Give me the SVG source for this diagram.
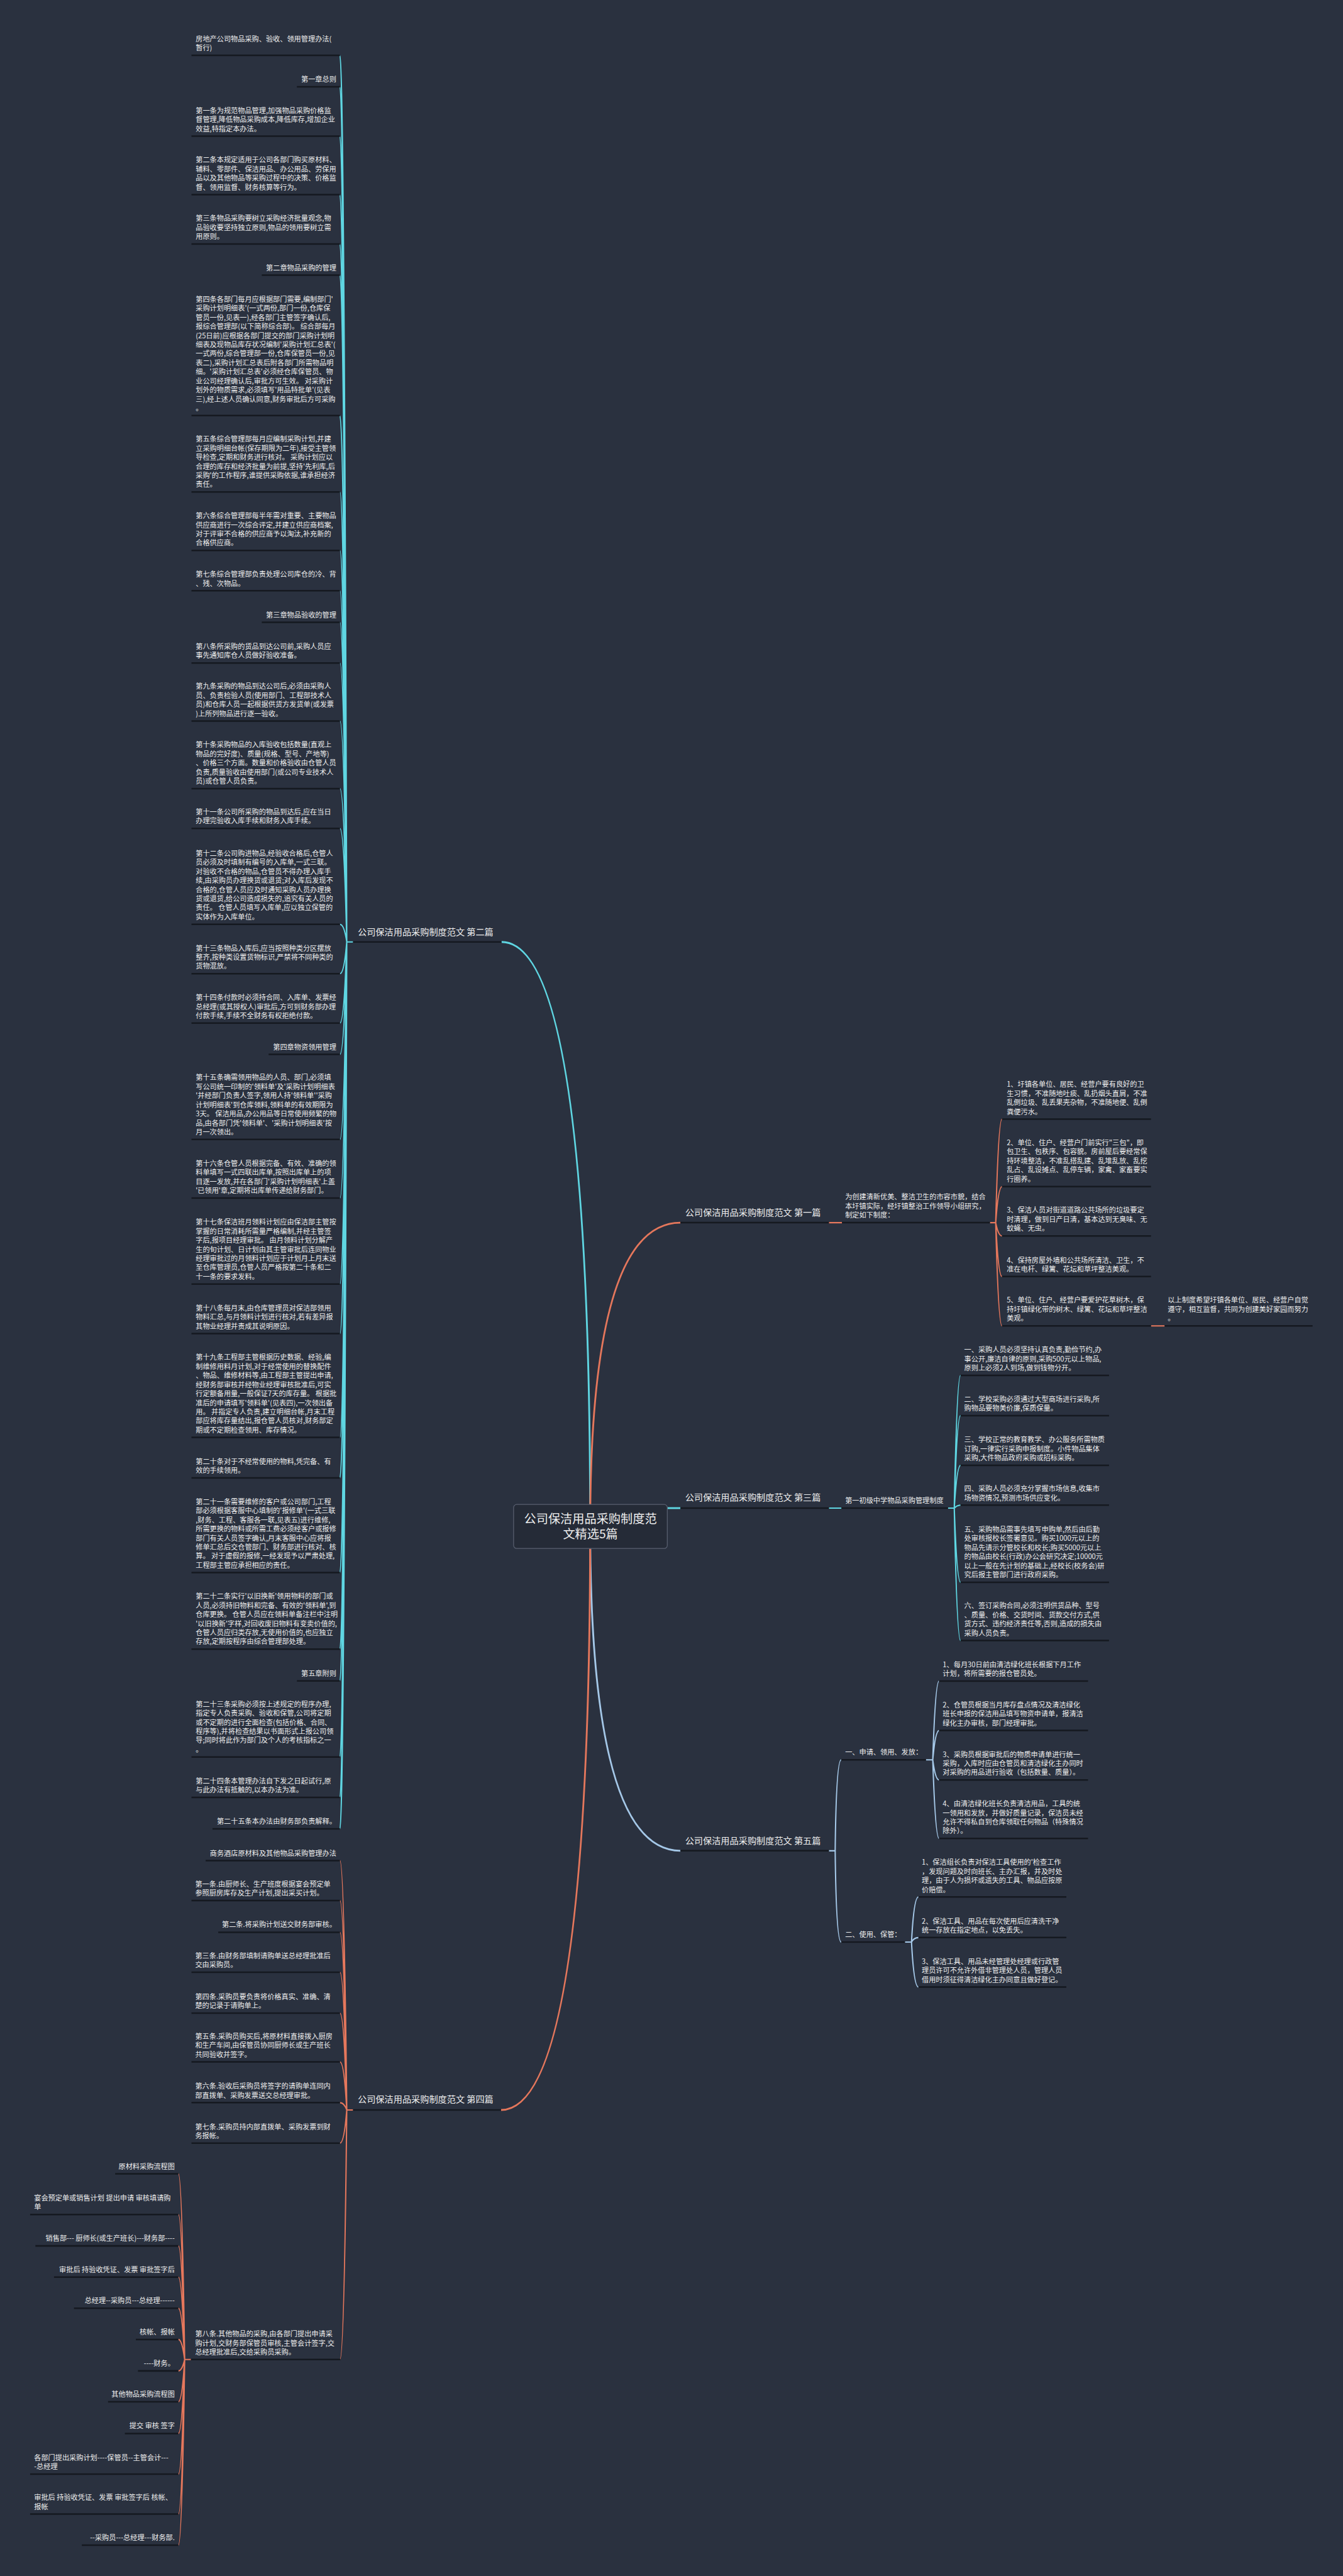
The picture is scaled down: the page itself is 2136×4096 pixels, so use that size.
<svg xmlns="http://www.w3.org/2000/svg" width="2136" height="4096" viewBox="0 0 2136 4096">
<style>
.t{font-family:"Noto Sans CJK SC","Noto Sans",sans-serif;font-size:13.4px;fill:#eeeeee}
.r{text-anchor:end}
.lb{font-size:17px}
.rt{font-size:23px;text-anchor:middle}
.u{stroke:#151920;stroke-width:3}
.cy{stroke:#5fd6e2;fill:none;stroke-width:2.5}
.or{stroke:#e5775c;fill:none;stroke-width:2.5}
.lbu{stroke:#a5c8e8;fill:none;stroke-width:2.5}
.m{stroke-width:3.5}
</style>
<rect width="2136" height="4096" fill="#2a313f"/>
<g transform="scale(0.834375)">
<g id="connectors">
<path class="cy m" d="M1125,2909 Q1125,1795 956,1795"/>
<path class="or m" d="M1125,2909 Q1125,2330 1297,2330"/>
<path class="cy m" d="M1272,2874 H1297"/>
<path class="lbu m" d="M1125,2909 Q1125,3527 1297,3527"/>
<path class="or m" d="M1125,2909 Q1125,4021 955,4021"/>
<path class="cy" d="M673,1795 H661 M661,1795 Q656,105.6 648,105.6 M661,1795 Q656,165.4 648,165.4 M661,1795 Q656,259.6 648,259.6 M661,1795 Q656,371 648,371 M661,1795 Q656,465 648,465 M661,1795 Q656,524.4 648,524.4 M661,1795 Q656,792 648,792 M661,1795 Q656,937.5 648,937.5 M661,1795 Q656,1049 648,1049 M661,1795 Q656,1125.8 648,1125.8 M661,1795 Q656,1186 648,1186 M661,1795 Q656,1263.5 648,1263.5 M661,1795 Q656,1374 648,1374 M661,1795 Q656,1502.9 648,1502.9 M661,1795 Q656,1578.7 648,1578.7 M661,1795 Q656,1761.4 648,1761.4 M661,1795 Q656,1855.5 648,1855.5 M661,1795 Q656,1949.6 648,1949.6 M661,1795 Q656,2009.3 648,2009.3 M661,1795 Q656,2171.4 648,2171.4 M661,1795 Q656,2283 648,2283 M661,1795 Q656,2446.9 648,2446.9 M661,1795 Q656,2541.5 648,2541.5 M661,1795 Q656,2739.3 648,2739.3 M661,1795 Q656,2816.5 648,2816.5 M661,1795 Q656,2997 648,2997 M661,1795 Q656,3142.7 648,3142.7 M661,1795 Q656,3203.4 648,3203.4 M661,1795 Q656,3348.2 648,3348.2 M661,1795 Q656,3425.4 648,3425.4 M661,1795 Q656,3485.3 648,3485.3"/>
<path class="or" d="M1580,2330 H1605 M1887,2330 H1898 M1898,2330 Q1903,2132.7 1910,2132.7 M1898,2330 Q1903,2261.3 1910,2261.3 M1898,2330 Q1903,2355.3 1910,2355.3 M1898,2330 Q1903,2432.7 1910,2432.7 M1898,2330 Q1903,2526.7 1910,2526.7 M2194,2526.7 H2220"/>
<path class="cy" d="M1580,2874 H1604 M1807,2874 H1819 M1819,2874 Q1824,2621.1 1831,2621.1 M1819,2874 Q1824,2697.7 1831,2697.7 M1819,2874 Q1824,2792.6 1831,2792.6 M1819,2874 Q1824,2868.4 1831,2868.4 M1819,2874 Q1824,3015.3 1831,3015.3 M1819,2874 Q1824,3126.3 1831,3126.3"/>
<path class="lbu" d="M1580,3527 H1592 M1592,3527 Q1594,3353.8 1603.5,3353.8 M1592,3527 Q1594,3701 1603.5,3701 M1765,3353.8 H1778 M1778,3353.8 Q1783,3203.6 1790,3203.6 M1778,3353.8 Q1783,3297.8 1790,3297.8 M1778,3353.8 Q1783,3392 1790,3392 M1778,3353.8 Q1783,3503.5 1790,3503.5 M1725,3701 H1737.5 M1737.5,3701 Q1742,3615 1750.7,3615 M1737.5,3701 Q1742,3692.4 1750.7,3692.4 M1737.5,3701 Q1742,3786.6 1750.7,3786.6"/>
<path class="or" d="M673,4021 H661 M661,4021 Q656,3545.9 648,3545.9 M661,4021 Q656,3622 648,3622 M661,4021 Q656,3682.3 648,3682.3 M661,4021 Q656,3758.5 648,3758.5 M661,4021 Q656,3836.4 648,3836.4 M661,4021 Q656,3929.3 648,3929.3 M661,4021 Q656,4007 648,4007 M661,4021 Q656,4084.2 648,4084.2 M661,4021 Q656,4496.5 648,4496.5"/>
<path class="or" d="M364,4496.5 H352 M352,4496.5 Q347,4142.7 340,4142.7 M352,4496.5 Q347,4220.2 340,4220.2 M352,4496.5 Q347,4280 340,4280 M352,4496.5 Q347,4339.5 340,4339.5 M352,4496.5 Q347,4398.9 340,4398.9 M352,4496.5 Q347,4458.3 340,4458.3 M352,4496.5 Q347,4518.2 340,4518.2 M352,4496.5 Q347,4577 340,4577 M352,4496.5 Q347,4637.5 340,4637.5 M352,4496.5 Q347,4715 340,4715 M352,4496.5 Q347,4791 340,4791 M352,4496.5 Q347,4850.3 340,4850.3"/>
</g>

<g id="root">
<rect x="979" y="2867" width="293" height="84" rx="6" fill="#252b37" stroke="#596070" stroke-width="1.5"/>
<text class="t rt" x="1125.5"><tspan x="1125.5" y="2903">公司保洁用品采购制度范</tspan><tspan x="1125.5" y="2931.7">文精选5篇</tspan></text>
</g>

<g id="b2"><text class="t lb" x="682" y="1782.5">公司保洁用品采购制度范文 第二篇</text><line class="u" x1="673" y1="1795" x2="956" y2="1795"/></g>
<g id="b1"><text class="t lb" x="1306" y="2316.5">公司保洁用品采购制度范文 第一篇</text><line class="u" x1="1297" y1="2330" x2="1580" y2="2330"/></g>
<g id="b3"><text class="t lb" x="1306" y="2859.5">公司保洁用品采购制度范文 第三篇</text><line class="u" x1="1297" y1="2874" x2="1580" y2="2874"/></g>
<g id="b5"><text class="t lb" x="1306" y="3513.5">公司保洁用品采购制度范文 第五篇</text><line class="u" x1="1297" y1="3527" x2="1580" y2="3527"/></g>
<g id="b4"><text class="t lb" x="682" y="4007">公司保洁用品采购制度范文 第四篇</text><line class="u" x1="673" y1="4021" x2="955" y2="4021"/></g>

<g id="b2-1"><text class="t"><tspan x="373" y="79">房地产公司物品采购、验收、领用管理办法(</tspan><tspan x="373" y="96.3">暂行)</tspan></text><line class="u" x1="365" y1="105.6" x2="648" y2="105.6"/></g>
<g id="b2-2"><text class="t r" x="641" y="155.9">第一章总则</text><line class="u" x1="566" y1="165.4" x2="648" y2="165.4"/></g>
<g id="b2-3"><text class="t"><tspan x="373" y="215.7">第一条为规范物品管理,加强物品采购价格监</tspan><tspan x="373" y="233">督管理,降低物品采购成本,降低库存,增加企业</tspan><tspan x="373" y="250.3">效益,特指定本办法。</tspan></text><line class="u" x1="365" y1="259.6" x2="648" y2="259.6"/></g>
<g id="b2-4"><text class="t"><tspan x="373" y="309.8">第二条本规定适用于公司各部门购买原材料、</tspan><tspan x="373" y="327.1">辅料、零部件、保洁用品、办公用品、劳保用</tspan><tspan x="373" y="344.4">品以及其他物品等采购过程中的决策、价格监</tspan><tspan x="373" y="361.7">督、领用监督、财务核算等行为。</tspan></text><line class="u" x1="365" y1="371" x2="648" y2="371"/></g>
<g id="b2-5"><text class="t"><tspan x="373" y="421.1">第三条物品采购要树立采购经济批量观念,物</tspan><tspan x="373" y="438.4">品验收要坚持独立原则,物品的领用要树立需</tspan><tspan x="373" y="455.7">用原则。</tspan></text><line class="u" x1="365" y1="465" x2="648" y2="465"/></g>
<g id="b2-6"><text class="t r" x="641" y="514.9">第二章物品采购的管理</text><line class="u" x1="499" y1="524.4" x2="648" y2="524.4"/></g>
<g id="b2-7"><text class="t"><tspan x="373" y="575.1">第四条各部门每月应根据部门需要,编制部门'</tspan><tspan x="373" y="592.4">采购计划明细表'(一式两份,部门一份,仓库保</tspan><tspan x="373" y="609.7">管员一份,见表一),经各部门主管签字确认后,</tspan><tspan x="373" y="627">报综合管理部(以下简称综合部)。 综合部每月</tspan><tspan x="373" y="644.3">(25日前)应根据各部门提交的部门采购计划明</tspan><tspan x="373" y="661.6">细表及现物品库存状况编制'采购计划汇总表'(</tspan><tspan x="373" y="678.9">一式两份,综合管理部一份,仓库保管员一份,见</tspan><tspan x="373" y="696.2">表二),采购计划汇总表后附各部门所需物品明</tspan><tspan x="373" y="713.5">细。'采购计划汇总表'必须经仓库保管员、物</tspan><tspan x="373" y="730.8">业公司经理确认后,审批方可生效。 对采购计</tspan><tspan x="373" y="748.1">划外的物质需求,必须填写'用品特批单'(见表</tspan><tspan x="373" y="765.4">三),经上述人员确认同意,财务审批后方可采购</tspan><tspan x="373" y="782.7">。</tspan></text><line class="u" x1="365" y1="792" x2="648" y2="792"/></g>
<g id="b2-8"><text class="t"><tspan x="373" y="841.7">第五条综合管理部每月应编制采购计划,并建</tspan><tspan x="373" y="859">立采购明细台帐(保存期限为二年),接受主管领</tspan><tspan x="373" y="876.3">导检查,定期和财务进行核对。 采购计划应以</tspan><tspan x="373" y="893.6">合理的库存和经济批量为前提,坚持'先利库,后</tspan><tspan x="373" y="910.9">采购'的工作程序,谁提供采购依据,谁承担经济</tspan><tspan x="373" y="928.2">责任。</tspan></text><line class="u" x1="365" y1="937.5" x2="648" y2="937.5"/></g>
<g id="b2-9"><text class="t"><tspan x="373" y="987.8">第六条综合管理部每半年需对重要、主要物品</tspan><tspan x="373" y="1005.1">供应商进行一次综合评定,并建立供应商档案,</tspan><tspan x="373" y="1022.4">对于评审不合格的供应商予以淘汰,补充新的</tspan><tspan x="373" y="1039.7">合格供应商。</tspan></text><line class="u" x1="365" y1="1049" x2="648" y2="1049"/></g>
<g id="b2-10"><text class="t"><tspan x="373" y="1099.2">第七条综合管理部负责处理公司库仓的冷、背</tspan><tspan x="373" y="1116.5">、残、次物品。</tspan></text><line class="u" x1="365" y1="1125.8" x2="648" y2="1125.8"/></g>
<g id="b2-11"><text class="t r" x="641" y="1176.5">第三章物品验收的管理</text><line class="u" x1="499" y1="1186" x2="648" y2="1186"/></g>
<g id="b2-12"><text class="t"><tspan x="373" y="1236.9">第八条所采购的货品到达公司前,采购人员应</tspan><tspan x="373" y="1254.2">事先通知库仓人员做好验收准备。</tspan></text><line class="u" x1="365" y1="1263.5" x2="648" y2="1263.5"/></g>
<g id="b2-13"><text class="t"><tspan x="373" y="1312.8">第九条采购的物品到达公司后,必须由采购人</tspan><tspan x="373" y="1330.1">员、负责检验人员(使用部门、工程部技术人</tspan><tspan x="373" y="1347.4">员)和仓库人员一起根据供货方发货单(或发票</tspan><tspan x="373" y="1364.7">)上所列物品进行逐一验收。</tspan></text><line class="u" x1="365" y1="1374" x2="648" y2="1374"/></g>
<g id="b2-14"><text class="t"><tspan x="373" y="1424.4">第十条采购物品的入库验收包括数量(直观上</tspan><tspan x="373" y="1441.7">物品的完好度)、质量(规格、型号、产地等)</tspan><tspan x="373" y="1459">、价格三个方面。数量和价格验收由仓管人员</tspan><tspan x="373" y="1476.3">负责,质量验收由使用部门(或公司专业技术人</tspan><tspan x="373" y="1493.6">员)或仓管人员负责。</tspan></text><line class="u" x1="365" y1="1502.9" x2="648" y2="1502.9"/></g>
<g id="b2-15"><text class="t"><tspan x="373" y="1552.1">第十一条公司所采购的物品到达后,应在当日</tspan><tspan x="373" y="1569.4">办理完验收入库手续和财务入库手续。</tspan></text><line class="u" x1="365" y1="1578.7" x2="648" y2="1578.7"/></g>
<g id="b2-16"><text class="t"><tspan x="373" y="1631">第十二条公司购进物品,经验收合格后,仓管人</tspan><tspan x="373" y="1648.3">员必须及时填制有编号的入库单,一式三联。</tspan><tspan x="373" y="1665.6">对验收不合格的物品,仓管员不得办理入库手</tspan><tspan x="373" y="1682.9">续,由采购员办理换货或退货;对入库后发现不</tspan><tspan x="373" y="1700.2">合格的,仓管人员应及时通知采购人员办理换</tspan><tspan x="373" y="1717.5">货或退货,给公司造成损失的,追究有关人员的</tspan><tspan x="373" y="1734.8">责任。 仓管人员填写入库单,应以独立保管的</tspan><tspan x="373" y="1752.1">实体作为入库单位。</tspan></text><line class="u" x1="365" y1="1761.4" x2="648" y2="1761.4"/></g>
<g id="b2-17"><text class="t"><tspan x="373" y="1811.6">第十三条物品入库后,应当按照种类分区摆放</tspan><tspan x="373" y="1828.9">整齐,按种类设置货物标识,严禁将不同种类的</tspan><tspan x="373" y="1846.2">货物混放。</tspan></text><line class="u" x1="365" y1="1855.5" x2="648" y2="1855.5"/></g>
<g id="b2-18"><text class="t"><tspan x="373" y="1905.7">第十四条付款时必须持合同、入库单、发票经</tspan><tspan x="373" y="1923">总经理(或其授权人)审批后,方可到财务部办理</tspan><tspan x="373" y="1940.3">付款手续,手续不全财务有权拒绝付款。</tspan></text><line class="u" x1="365" y1="1949.6" x2="648" y2="1949.6"/></g>
<g id="b2-19"><text class="t r" x="641" y="1999.8">第四章物资领用管理</text><line class="u" x1="512" y1="2009.3" x2="648" y2="2009.3"/></g>
<g id="b2-20"><text class="t"><tspan x="373" y="2058.3">第十五条确需领用物品的人员、部门,必须填</tspan><tspan x="373" y="2075.6">写公司统一印制的'领料单'及'采购计划明细表</tspan><tspan x="373" y="2092.9">'并经部门负责人签字,领用人持'领料单''采购</tspan><tspan x="373" y="2110.2">计划明细表'到仓库领料,领料单的有效期限为</tspan><tspan x="373" y="2127.5">3天。 保洁用品,办公用品等日常使用频繁的物</tspan><tspan x="373" y="2144.8">品,由各部门凭'领料单'、'采购计划明细表'按</tspan><tspan x="373" y="2162.1">月一次领出。</tspan></text><line class="u" x1="365" y1="2171.4" x2="648" y2="2171.4"/></g>
<g id="b2-21"><text class="t"><tspan x="373" y="2221.8">第十六条仓管人员根据完备、有效、准确的领</tspan><tspan x="373" y="2239.1">料单填写一式四联出库单,按照出库单上的项</tspan><tspan x="373" y="2256.4">目逐一发放,并在各部门'采购计划明细表'上盖</tspan><tspan x="373" y="2273.7">'已领用'章,定期将出库单传递给财务部门。</tspan></text><line class="u" x1="365" y1="2283" x2="648" y2="2283"/></g>
<g id="b2-22"><text class="t"><tspan x="373" y="2333.8">第十七条保洁班月领料计划应由保洁部主管按</tspan><tspan x="373" y="2351.1">掌握的日常消耗所需量严格编制,并经主管签</tspan><tspan x="373" y="2368.4">字后,报项目经理审批。 由月领料计划分解产</tspan><tspan x="373" y="2385.7">生的旬计划、日计划由其主管审批后连同物业</tspan><tspan x="373" y="2403">经理审批过的月领料计划应于计划月上月末送</tspan><tspan x="373" y="2420.3">至仓库管理员,仓管人员严格按第二十条和二</tspan><tspan x="373" y="2437.6">十一条的要求发料。</tspan></text><line class="u" x1="365" y1="2446.9" x2="648" y2="2446.9"/></g>
<g id="b2-23"><text class="t"><tspan x="373" y="2497.6">第十八条每月末,由仓库管理员对保洁部领用</tspan><tspan x="373" y="2514.9">物料汇总,与月领料计划进行核对,若有差异报</tspan><tspan x="373" y="2532.2">其物业经理并责成其说明原因。</tspan></text><line class="u" x1="365" y1="2541.5" x2="648" y2="2541.5"/></g>
<g id="b2-24"><text class="t"><tspan x="373" y="2591.6">第十九条工程部主管根据历史数据、经验,编</tspan><tspan x="373" y="2608.9">制维修用料月计划,对于经常使用的替换配件</tspan><tspan x="373" y="2626.2">、物品、维修材料等,由工程部主管提出申请,</tspan><tspan x="373" y="2643.5">经财务部审核并经物业经理审核批准后,可实</tspan><tspan x="373" y="2660.8">行定额备用量,一般保证7天的库存量。 根据批</tspan><tspan x="373" y="2678.1">准后的申请填写'领料单'(见表四),一次领出备</tspan><tspan x="373" y="2695.4">用。 并指定专人负责,建立明细台帐,月末工程</tspan><tspan x="373" y="2712.7">部应将库存量结出,报仓管人员核对,财务部定</tspan><tspan x="373" y="2730">期或不定期检查领用、库存情况。</tspan></text><line class="u" x1="365" y1="2739.3" x2="648" y2="2739.3"/></g>
<g id="b2-25"><text class="t"><tspan x="373" y="2789.9">第二十条对于不经常使用的物料,凭完备、有</tspan><tspan x="373" y="2807.2">效的手续领用。</tspan></text><line class="u" x1="365" y1="2816.5" x2="648" y2="2816.5"/></g>
<g id="b2-26"><text class="t"><tspan x="373" y="2866.6">第二十一条需要维修的客户或公司部门,工程</tspan><tspan x="373" y="2883.9">部必须根据客服中心填制的'报修单'(一式三联</tspan><tspan x="373" y="2901.2">,财务、工程、客服各一联,见表五)进行维修,</tspan><tspan x="373" y="2918.5">所需更换的物料或所需工费必须经客户或报修</tspan><tspan x="373" y="2935.8">部门有关人员签字确认,月末客服中心应将报</tspan><tspan x="373" y="2953.1">修单汇总后交仓管部门、财务部进行核对、核</tspan><tspan x="373" y="2970.4">算。 对于虚假的报修,一经发现予以严肃处理,</tspan><tspan x="373" y="2987.7">工程部主管应承担相应的责任。</tspan></text><line class="u" x1="365" y1="2997" x2="648" y2="2997"/></g>
<g id="b2-27"><text class="t"><tspan x="373" y="3047">第二十二条实行'以旧换新'领用物料的部门或</tspan><tspan x="373" y="3064.3">人员,必须持旧物料和完备、有效的'领料单',到</tspan><tspan x="373" y="3081.6">仓库更换。 仓管人员应在领料单备注栏中注明</tspan><tspan x="373" y="3098.9">'以旧换新'字样,对回收废旧物料有变卖价值的,</tspan><tspan x="373" y="3116.2">仓管人员应归类存放,无使用价值的,也应独立</tspan><tspan x="373" y="3133.4">存放,定期按程序由综合管理部处理。</tspan></text><line class="u" x1="365" y1="3142.7" x2="648" y2="3142.7"/></g>
<g id="b2-28"><text class="t r" x="641" y="3193.9">第五章附则</text><line class="u" x1="566" y1="3203.4" x2="648" y2="3203.4"/></g>
<g id="b2-29"><text class="t"><tspan x="373" y="3252.4">第二十三条采购必须按上述规定的程序办理,</tspan><tspan x="373" y="3269.7">指定专人负责采购、验收和保管,公司将定期</tspan><tspan x="373" y="3287">或不定期的进行全面检查(包括价格、合同、</tspan><tspan x="373" y="3304.3">程序等),并将检查结果以书面形式上报公司领</tspan><tspan x="373" y="3321.6">导;同时将此作为部门及个人的考核指标之一</tspan><tspan x="373" y="3338.9">。</tspan></text><line class="u" x1="365" y1="3348.2" x2="648" y2="3348.2"/></g>
<g id="b2-30"><text class="t"><tspan x="373" y="3398.8">第二十四条本管理办法自下发之日起试行,原</tspan><tspan x="373" y="3416.1">与此办法有抵触的,以本办法为准。</tspan></text><line class="u" x1="365" y1="3425.4" x2="648" y2="3425.4"/></g>
<g id="b2-31"><text class="t r" x="641" y="3475.8">第二十五条本办法由财务部负责解释。</text><line class="u" x1="405" y1="3485.3" x2="648" y2="3485.3"/></g>

<g id="b1-s"><text class="t"><tspan x="1611" y="2285.9">为创建清新优美、整洁卫生的市容市貌，结合</tspan><tspan x="1611" y="2303.3">本圩镇实际，经圩镇整治工作领导小组研究，</tspan><tspan x="1611" y="2320.7">制定如下制度：</tspan></text><line class="u" x1="1605" y1="2330" x2="1887" y2="2330"/></g>
<g id="b1-1"><text class="t"><tspan x="1919" y="2071.2">1、圩镇各单位、居民、经营户要有良好的卫</tspan><tspan x="1919" y="2088.6">生习惯，不准随地吐痰、乱扔烟头直屑，不准</tspan><tspan x="1919" y="2106">乱倒垃圾、乱丢果壳杂物，不准随地便、乱倒</tspan><tspan x="1919" y="2123.4">粪便污水。</tspan></text><line class="u" x1="1910" y1="2132.7" x2="2194" y2="2132.7"/></g>
<g id="b1-2"><text class="t"><tspan x="1919" y="2182.4">2、单位、住户、经营户门前实行"三包"，即</tspan><tspan x="1919" y="2199.8">包卫生、包秩序、包容貌。房前屋后要经常保</tspan><tspan x="1919" y="2217.2">持环境整洁，不准乱搭乱建、乱堆乱放、乱挖</tspan><tspan x="1919" y="2234.6">乱占、乱设摊点、乱停车辆，家禽、家畜要实</tspan><tspan x="1919" y="2252">行圈养。</tspan></text><line class="u" x1="1910" y1="2261.3" x2="2194" y2="2261.3"/></g>
<g id="b1-3"><text class="t"><tspan x="1919" y="2311.2">3、保洁人员对街道道路公共场所的垃圾要定</tspan><tspan x="1919" y="2328.6">时清理，做到日产日清，基本达到无臭味、无</tspan><tspan x="1919" y="2346">蚊蝇、无虫。</tspan></text><line class="u" x1="1910" y1="2355.3" x2="2194" y2="2355.3"/></g>
<g id="b1-4"><text class="t"><tspan x="1919" y="2406">4、保持房屋外墙和公共场所清洁、卫生，不</tspan><tspan x="1919" y="2423.4">准在电杆、绿篱、花坛和草坪整洁美观。</tspan></text><line class="u" x1="1910" y1="2432.7" x2="2194" y2="2432.7"/></g>
<g id="b1-5"><text class="t"><tspan x="1919" y="2482.6">5、单位、住户、经营户要爱护花草树木，保</tspan><tspan x="1919" y="2500">持圩镇绿化带的树木、绿篱、花坛和草坪整洁</tspan><tspan x="1919" y="2517.4">美观。</tspan></text><line class="u" x1="1910" y1="2526.7" x2="2194" y2="2526.7"/></g>
<g id="b1-6"><text class="t"><tspan x="2226" y="2482.6">以上制度希望圩镇各单位、居民、经营户自觉</tspan><tspan x="2226" y="2500">遵守，相互监督，共同为创建美好家园而努力</tspan><tspan x="2226" y="2517.4">。</tspan></text><line class="u" x1="2220" y1="2526.7" x2="2502" y2="2526.7"/></g>

<g id="b3-s"><text class="t" x="1611" y="2864.5">第一初级中学物品采购管理制度</text><line class="u" x1="1604" y1="2874" x2="1807" y2="2874"/></g>
<g id="b3-1"><text class="t"><tspan x="1838" y="2577.2">一、采购人员必须坚持认真负责,勤俭节约,办</tspan><tspan x="1838" y="2594.5">事公开,廉洁自律的原则,采购500元以上物品,</tspan><tspan x="1838" y="2611.8">原则上必须2人到场,做到钱物分开。</tspan></text><line class="u" x1="1831" y1="2621.1" x2="2114" y2="2621.1"/></g>
<g id="b3-2"><text class="t"><tspan x="1838" y="2671.1">二、学校采购必须通过大型商场进行采购,所</tspan><tspan x="1838" y="2688.4">购物品要物美价廉,保质保量。</tspan></text><line class="u" x1="1831" y1="2697.7" x2="2114" y2="2697.7"/></g>
<g id="b3-3"><text class="t"><tspan x="1838" y="2748.7">三、学校正常的教育教学、办公服务所需物质</tspan><tspan x="1838" y="2766">订购,一律实行采购申报制度。小件物品集体</tspan><tspan x="1838" y="2783.3">采购,大件物品政府采购或招标采购。</tspan></text><line class="u" x1="1831" y1="2792.6" x2="2114" y2="2792.6"/></g>
<g id="b3-4"><text class="t"><tspan x="1838" y="2841.8">四、采购人员必须充分掌握市场信息,收集市</tspan><tspan x="1838" y="2859.1">场物资情况,预测市场供应变化。</tspan></text><line class="u" x1="1831" y1="2868.4" x2="2114" y2="2868.4"/></g>
<g id="b3-5"><text class="t"><tspan x="1838" y="2919.5">五、采购物品需事先填写申购单,然后由后勤</tspan><tspan x="1838" y="2936.8">处审核报校长签署意见。购买1000元以上的</tspan><tspan x="1838" y="2954.1">物品先请示分管校长和校长;购买5000元以上</tspan><tspan x="1838" y="2971.4">的物品由校长(行政)办公会研究决定;10000元</tspan><tspan x="1838" y="2988.7">以上一般在先计划的基础上,经校长(校务会)研</tspan><tspan x="1838" y="3006">究后报主管部门进行政府采购。</tspan></text><line class="u" x1="1831" y1="3015.3" x2="2114" y2="3015.3"/></g>
<g id="b3-6"><text class="t"><tspan x="1838" y="3065.1">六、签订采购合同,必须注明供货品种、型号</tspan><tspan x="1838" y="3082.4">、质量、价格、交货时间、货款交付方式,供</tspan><tspan x="1838" y="3099.7">货方式、违约经济责任等,否则,造成的损失由</tspan><tspan x="1838" y="3117">采购人员负责。</tspan></text><line class="u" x1="1831" y1="3126.3" x2="2114" y2="3126.3"/></g>

<g id="b5-a"><text class="t" x="1611" y="3344.3">一、申请、领用、发放：</text><line class="u" x1="1603.5" y1="3353.8" x2="1765" y2="3353.8"/></g>
<g id="b5-b"><text class="t" x="1611" y="3691.5">二、使用、保管：</text><line class="u" x1="1603.5" y1="3701" x2="1725" y2="3701"/></g>
<g id="b5-a1"><text class="t"><tspan x="1797" y="3177">1、每月30日前由清洁绿化班长根据下月工作</tspan><tspan x="1797" y="3194.3">计划，将所需要的报仓管员处。</tspan></text><line class="u" x1="1790" y1="3203.6" x2="2074" y2="3203.6"/></g>
<g id="b5-a2"><text class="t"><tspan x="1797" y="3253.9">2、仓管员根据当月库存盘点情况及清洁绿化</tspan><tspan x="1797" y="3271.2">班长申报的保洁用品填写物资申请单，报清洁</tspan><tspan x="1797" y="3288.5">绿化主办审核，部门经理审批。</tspan></text><line class="u" x1="1790" y1="3297.8" x2="2074" y2="3297.8"/></g>
<g id="b5-a3"><text class="t"><tspan x="1797" y="3348.1">3、采购员根据审批后的物质申请单进行统一</tspan><tspan x="1797" y="3365.4">采购，入库时应由仓管员和清洁绿化主办同时</tspan><tspan x="1797" y="3382.7">对采购的用品进行验收（包括数量、质量）。</tspan></text><line class="u" x1="1790" y1="3392" x2="2074" y2="3392"/></g>
<g id="b5-a4"><text class="t"><tspan x="1797" y="3442.3">4、由清洁绿化班长负责清洁用品，工具的统</tspan><tspan x="1797" y="3459.6">一领用和发放，并做好质量记录，保洁员未经</tspan><tspan x="1797" y="3476.9">允许不得私自到仓库领取任何物品（特殊情况</tspan><tspan x="1797" y="3494.2">除外）。</tspan></text><line class="u" x1="1790" y1="3503.5" x2="2074" y2="3503.5"/></g>
<g id="b5-b1"><text class="t"><tspan x="1757" y="3553.8">1、保洁组长负责对保洁工具使用的'检查工作</tspan><tspan x="1757" y="3571.1">，发现问题及时向班长、主办汇报，并及时处</tspan><tspan x="1757" y="3588.4">理，由于人为损坏或遗失的工具、物品应按原</tspan><tspan x="1757" y="3605.7">价赔偿。</tspan></text><line class="u" x1="1750.7" y1="3615" x2="2032.6" y2="3615"/></g>
<g id="b5-b2"><text class="t"><tspan x="1757" y="3665.8">2、保洁工具、用品在每次使用后应清洗干净</tspan><tspan x="1757" y="3683.1">统一存放在指定地点，以免丢失。</tspan></text><line class="u" x1="1750.7" y1="3692.4" x2="2032.6" y2="3692.4"/></g>
<g id="b5-b3"><text class="t"><tspan x="1757" y="3742.7">3、保洁工具、用品未经管理处经理或行政管</tspan><tspan x="1757" y="3760">理员许可不允许外借非管理处人员，管理人员</tspan><tspan x="1757" y="3777.3">借用时须征得清洁绿化主办同意且做好登记。</tspan></text><line class="u" x1="1750.7" y1="3786.6" x2="2032.6" y2="3786.6"/></g>

<g id="b4-1"><text class="t r" x="641" y="3536.4">商务酒店原材料及其他物品采购管理办法</text><line class="u" x1="392" y1="3545.9" x2="648" y2="3545.9"/></g>
<g id="b4-2"><text class="t"><tspan x="372" y="3595.4">第一条.由厨师长、生产班度根据宴会预定单</tspan><tspan x="372" y="3612.7">参照厨房库存及生产计划,提出采买计划。</tspan></text><line class="u" x1="365" y1="3622" x2="648" y2="3622"/></g>
<g id="b4-3"><text class="t r" x="641" y="3672.8">第二条.将采购计划送交财务部审核。</text><line class="u" x1="416" y1="3682.3" x2="648" y2="3682.3"/></g>
<g id="b4-4"><text class="t"><tspan x="372" y="3731.9">第三条.由财务部填制请购单送总经理批准后</tspan><tspan x="372" y="3749.2">交由采购员。</tspan></text><line class="u" x1="365" y1="3758.5" x2="648" y2="3758.5"/></g>
<g id="b4-5"><text class="t"><tspan x="372" y="3809.8">第四条.采购员要负责将价格真实、准确、清</tspan><tspan x="372" y="3827.1">楚的记录于请购单上。</tspan></text><line class="u" x1="365" y1="3836.4" x2="648" y2="3836.4"/></g>
<g id="b4-6"><text class="t"><tspan x="372" y="3885.4">第五条.采购员购买后,将原材料直接拨入厨房</tspan><tspan x="372" y="3902.7">和生产车间,由保管员协同厨师长或生产班长</tspan><tspan x="372" y="3920">共同验收并签字。</tspan></text><line class="u" x1="365" y1="3929.3" x2="648" y2="3929.3"/></g>
<g id="b4-7"><text class="t"><tspan x="372" y="3980.4">第六条.验收后采购员将签字的请购单连同内</tspan><tspan x="372" y="3997.7">部直拨单、采购发票送交总经理审批。</tspan></text><line class="u" x1="365" y1="4007" x2="648" y2="4007"/></g>
<g id="b4-8"><text class="t"><tspan x="372" y="4057.6">第七条.采购员持内部直拨单、采购发票到财</tspan><tspan x="372" y="4074.9">务报帐。</tspan></text><line class="u" x1="365" y1="4084.2" x2="648" y2="4084.2"/></g>
<g id="b4-9"><text class="t"><tspan x="372" y="4452.6">第八条.其他物品的采购,由各部门提出申请采</tspan><tspan x="372" y="4469.9">购计划,交财务部保管员审核,主管会计签字,交</tspan><tspan x="372" y="4487.2">总经理批准后,交给采购员采购。</tspan></text><line class="u" x1="364" y1="4496.5" x2="649" y2="4496.5"/></g>

<g id="b4-9a"><text class="t r" x="333" y="4133.2">原材料采购流程图</text><line class="u" x1="219.5" y1="4142.7" x2="340" y2="4142.7"/></g>
<g id="b4-9b"><text class="t"><tspan x="65" y="4193.6">宴会预定单或销售计划 提出申请 审核填请购</tspan><tspan x="65" y="4210.9">单</tspan></text><line class="u" x1="57.4" y1="4220.2" x2="340" y2="4220.2"/></g>
<g id="b4-9c"><text class="t r" x="333" y="4270.5">销售部--- 厨师长(或生产班长)---财务部----</text><line class="u" x1="67.5" y1="4280" x2="340" y2="4280"/></g>
<g id="b4-9d"><text class="t r" x="333" y="4330">审批后 持验收凭证、发票 审批签字后</text><line class="u" x1="103" y1="4339.5" x2="340" y2="4339.5"/></g>
<g id="b4-9e"><text class="t r" x="333" y="4389.4">总经理--采购员---总经理------</text><line class="u" x1="141" y1="4398.9" x2="340" y2="4398.9"/></g>
<g id="b4-9f"><text class="t r" x="333" y="4448.8">核帐、报帐</text><line class="u" x1="259" y1="4458.3" x2="340" y2="4458.3"/></g>
<g id="b4-9g"><text class="t r" x="333" y="4508.7">----财务。</text><line class="u" x1="263" y1="4518.2" x2="340" y2="4518.2"/></g>
<g id="b4-9h"><text class="t r" x="333" y="4567.5">其他物品采购流程图</text><line class="u" x1="206" y1="4577" x2="340" y2="4577"/></g>
<g id="b4-9i"><text class="t r" x="333" y="4628">提交 审核 签字</text><line class="u" x1="238" y1="4637.5" x2="340" y2="4637.5"/></g>
<g id="b4-9j"><text class="t"><tspan x="65" y="4688.4">各部门提出采购计划----保管员--主管会计---</tspan><tspan x="65" y="4705.7">-总经理</tspan></text><line class="u" x1="57.4" y1="4715" x2="340" y2="4715"/></g>
<g id="b4-9k"><text class="t"><tspan x="65" y="4764.4">审批后 持验收凭证、发票 审批签字后 核帐、</tspan><tspan x="65" y="4781.7">报帐</tspan></text><line class="u" x1="57.4" y1="4791" x2="340" y2="4791"/></g>
<g id="b4-9l"><text class="t r" x="333" y="4840.8">--采购员---总经理---财务部.</text><line class="u" x1="156" y1="4850.3" x2="340" y2="4850.3"/></g>
</g>
</svg>
